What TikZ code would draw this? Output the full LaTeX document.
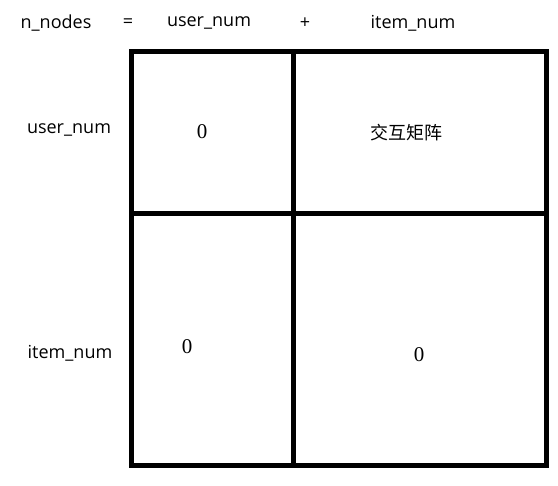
\documentclass[tikz,border=0pt]{standalone}
\usepackage{fontspec}
\setmainfont{Open Sans}
\newfontfamily\cjkfont{Noto Sans CJK SC}
\newfontfamily\zerofont{Liberation Serif}
\usetikzlibrary{positioning}

\begin{document}
\begin{tikzpicture}[x=1pt,y=-1pt,
		label text/.style={inner sep=0pt, font=\fontsize{18}{21}\selectfont},
		zero/.style={inner sep=0pt, font=\zerofont\fontsize{21}{24}\selectfont},
		block line/.style={line width=5pt, line cap=rect}
	]
	\useasboundingbox (0,0) rectangle (558,486);

		% block matrix outline
		\coordinate (tl) at (131,52);
		\coordinate (br) at (546,466);
		\draw[block line] (tl) rectangle (br);
		\draw[block line] (293,52) -- (293,466);
		\draw[block line] (131,214) -- (546,214);

		% header row
		\node[label text] (nnodes) at (56,23) {n\_nodes};
		\node[label text] (eq) at (128,23) {=};
		\node[label text] (usertop) at (209,23) {user\_num};
		\node[label text] (plus) at (305,23) {+};
		\node[label text] (itemtop) at (413,23) {item\_num};

		% row labels
		\node[label text] (userleft) at (69,130) {user\_num};
		\node[label text] (itemleft) at (70,353) {item\_num};

		% cell contents
		\node[zero] (uu) at (202,132) {0};
		\node[label text, font=\cjkfont\fontsize{18}{21}\selectfont] (ui) at (406,133) {交互矩阵};
		\node[zero] (iu) at (187,347) {0};
		\node[zero] (ii) at (419,355) {0};
		
	\end{tikzpicture}
\end{document}
